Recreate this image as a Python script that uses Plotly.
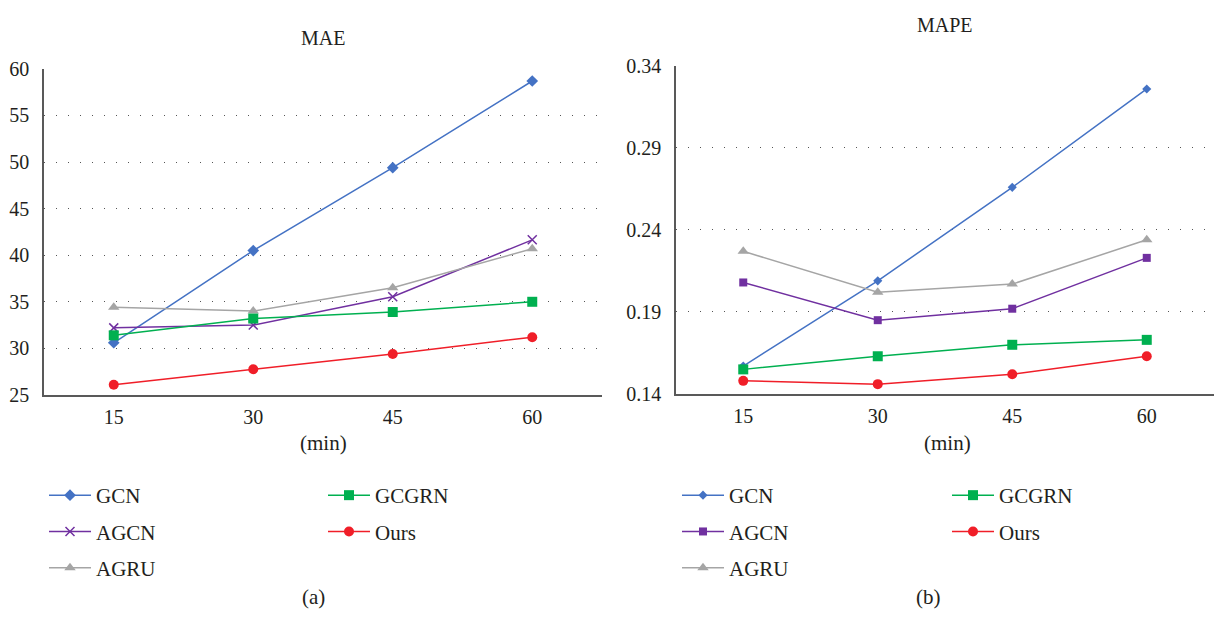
import plotly.graph_objects as go

horizons = [15, 30, 45, 60]
models = ["GCN", "AGCN", "AGRU", "GCGRN", "Ours"]

mae_gcn = [30.6, 40.5, 49.4, 58.7]
mae_agcn = [32.2, 32.5, 35.55, 41.65]
mae_agru = [34.4, 34.0, 36.5, 40.7]
mae_gcgrn = [31.4, 33.2, 33.9, 35.0]
mae_ours = [26.1, 27.76, 29.4, 31.2]

mape_gcn = [0.157, 0.209, 0.266, 0.326]
mape_agcn = [0.208, 0.185, 0.192, 0.223]
mape_agru = [0.227, 0.202, 0.207, 0.234]
mape_gcgrn = [0.155, 0.163, 0.170, 0.173]
mape_ours = [0.148, 0.146, 0.152, 0.163]

mae_ticks = [25, 30, 35, 40, 45, 50, 55, 60]
mape_ticks = [0.14, 0.19, 0.24, 0.29, 0.34]

colors = {"GCN": "#4472C4", "AGCN": "#7030A0", "AGRU": "#A5A5A5",
          "GCGRN": "#00B050", "Ours": "#F01E28"}
left_symbols = {"GCN": "diamond", "AGCN": "x-thin", "AGRU": "triangle-up",
                "GCGRN": "square", "Ours": "circle"}
right_symbols = {"GCN": "diamond", "AGCN": "square", "AGRU": "triangle-up",
                 "GCGRN": "square", "Ours": "circle"}
left_sizes = {"GCN": 9, "AGCN": 9, "AGRU": 10, "GCGRN": 10, "Ours": 10}
right_sizes = {"GCN": 7, "AGCN": 8, "AGRU": 10, "GCGRN": 10, "Ours": 10}

mae = {"GCN": mae_gcn, "AGCN": mae_agcn, "AGRU": mae_agru, "GCGRN": mae_gcgrn, "Ours": mae_ours}
mape = {"GCN": mape_gcn, "AGCN": mape_agcn, "AGRU": mape_agru, "GCGRN": mape_gcgrn, "Ours": mape_ours}

FONT = "Liberation Serif"
FS = 20
TXT = "#231F20"
fig = go.Figure()

for m in models:
    col1 = m in ("GCN", "AGCN", "AGRU")
    sym = left_symbols[m]
    marker = dict(symbol=sym, size=left_sizes[m], color=colors[m])
    if sym == "x-thin":
        marker["line"] = dict(color=colors[m], width=1.5)
    fig.add_trace(go.Scatter(
        x=horizons, y=mae[m], name=m, mode="lines+markers",
        line=dict(color=colors[m], width=1.5), marker=marker,
        xaxis="x", yaxis="y", legend="legend" if col1 else "legend2",
        legendgroup="L" + m))
for m in models:
    col1 = m in ("GCN", "AGCN", "AGRU")
    fig.add_trace(go.Scatter(
        x=horizons, y=mape[m], name=m, mode="lines+markers",
        line=dict(color=colors[m], width=1.5),
        marker=dict(symbol=right_symbols[m], size=right_sizes[m], color=colors[m]),
        xaxis="x2", yaxis="y2", legend="legend3" if col1 else "legend4",
        legendgroup="R" + m))

W, H = 1216, 623

def px(x):
    return x / W

def py(y):
    return 1 - y / H

axis_common = dict(showline=True, linecolor="#595959", linewidth=1.5, ticks="",
                   tickfont=dict(family=FONT, size=FS, color=TXT), zeroline=False)

leg_common = dict(font=dict(family=FONT, size=21, color=TXT), bgcolor="rgba(0,0,0,0)",
                  tracegroupgap=6, itemwidth=42, xanchor="left", yanchor="top",
                  traceorder="grouped")

fig.update_layout(
    width=W, height=H, margin=dict(l=0, r=0, t=0, b=0),
    paper_bgcolor="white", plot_bgcolor="white",
    xaxis=dict(domain=[px(44), px(602)], range=[7.5, 67.5], tickvals=horizons,
               showgrid=False, anchor="y", ticklabelstandoff=3, **axis_common),
    yaxis=dict(domain=[py(398), py(60)], range=[25, 60], tickvals=mae_ticks,
               showgrid=True, gridcolor="#555", griddash="1px,11px", gridwidth=1,
               anchor="x", ticklabelstandoff=9, **axis_common),
    xaxis2=dict(domain=[px(676), px(1214)], range=[7.5, 67.5], tickvals=horizons,
                showgrid=False, anchor="y2", ticklabelstandoff=3, **axis_common),
    yaxis2=dict(domain=[py(397), py(57)], range=[0.14, 0.34], tickvals=mape_ticks,
                tickformat=".2f", showgrid=True, gridcolor="#555", griddash="1px,11px",
                gridwidth=1, anchor="x2", ticklabelstandoff=9, **axis_common),
    legend=dict(x=px(44), y=py(481), **leg_common),
    legend2=dict(x=px(323), y=py(481), **leg_common),
    legend3=dict(x=px(677), y=py(481), **leg_common),
    legend4=dict(x=px(947), y=py(481), **leg_common),
)

texts = [("MAE", 323, 28, 20), ("MAPE", 945, 14, 20), ("(min)", 323, 448, 21),
         ("(min)", 947, 448, 21), ("(a)", 313, 607, 21), ("(b)", 928, 607, 21)]
for t, x, y, s in texts:
    fig.add_annotation(text=t, x=px(x), y=py(y), xref="paper", yref="paper",
                       showarrow=False, xanchor="center", yanchor="middle",
                       font=dict(family=FONT, size=s, color=TXT))

fig.write_html("out.html", config={"displayModeBar": False},
               post_script="document.body.style.margin='0';")
